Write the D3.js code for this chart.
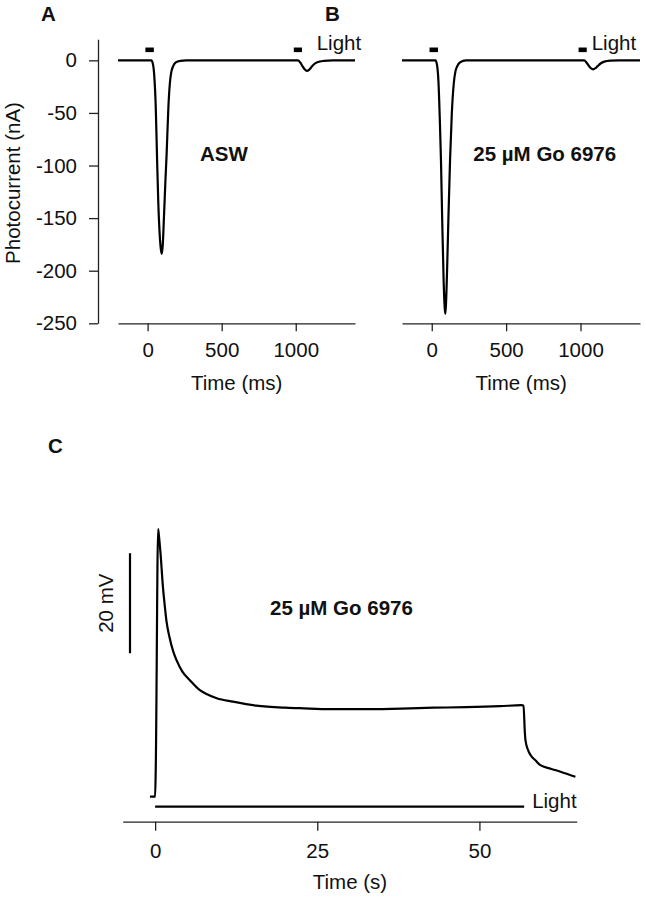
<!DOCTYPE html>
<html>
<head>
<meta charset="utf-8">
<style>
  body { margin: 0; background: #fff; }
  svg text { font-family: "Liberation Sans", Arial, sans-serif; fill: #111; }
  .axis path, .axis line { stroke: #222; stroke-width: 1.3; }
  .axis text { font-size: 20.5px; fill: #111; }
  .trace { fill: none; stroke: #000; stroke-width: 2.2; stroke-linejoin: round; }
</style>
<script src="https://d3js.org/d3.v7.min.js"></script>
</head>
<body>
<svg id="fig" width="646" height="899"></svg>
<script>
// panel A: control (ASW) photocurrent, time in ms, current in nA
const timeA = [-200, 25, 35, 45, 55, 64, 72, 80, 88, 95, 102, 110, 120, 128, 140, 150, 160, 171, 190, 220, 260, 1015, 1030, 1045, 1060, 1075, 1090, 1105, 1125, 1150, 1190, 1250, 1400];
const currA = [0, 0, -3, -15, -45, -95, -135, -162, -178, -184, -176, -150, -115, -90, -45, -22, -11, -6, -2, -0.5, 0, 0, -2, -5.5, -8.5, -10, -9, -6.5, -3.5, -1.5, -0.5, 0, 0];

// panel B: 25 uM Go 6976
const timeB = [-200, 25, 35, 45, 55, 62, 70, 80, 87, 91, 95, 102, 112, 123, 135, 148, 160, 170, 190, 230, 1025, 1040, 1055, 1070, 1085, 1100, 1115, 1135, 1160, 1200, 1260, 1400];
const currB = [0, 0, -4, -20, -60, -95, -150, -210, -235, -241, -234, -205, -150, -95, -50, -22, -10, -6, -2, 0, 0, -2, -5, -7.5, -8.5, -7.5, -5.5, -3, -1.2, -0.3, 0, 0];

// light flashes (ms)
const flashes = [[-15, 42], [987, 1042]];

const yTicksA = [0, -50, -100, -150, -200, -250];
const xTicksAB = [0, 500, 1000];

// panel C: voltage response, time in s, mV above resting level
const timeC = [-0.8, 0, 0.1, 0.46, 0.6, 0.83, 1.2, 1.5, 1.76, 2.2, 2.8, 3.3, 4.2, 5.35, 6.9, 8, 9.5, 12, 15.6, 20, 22.3, 27, 32.6, 38, 42.9, 48, 53.2, 56.5, 56.8, 57.0, 57.1, 57.5, 57.9, 58.7, 59.4, 61, 62.5, 64.8];
const voltC = [0, 0, 6, 53.5, 52, 48.7, 42, 38, 35, 32, 29, 27.3, 25, 23.3, 21.3, 20.5, 19.7, 19, 18.2, 17.8, 17.7, 17.5, 17.5, 17.6, 17.8, 17.9, 18.1, 18.3, 18.2, 13, 11.3, 9.3, 8.3, 7.2, 6.3, 5.6, 5.0, 4.0];
const lightC = [0, 56.9];
const scaleBarC = [28.7, 48.7];   // 20 mV
const xTicksC = [0, 25, 50];

const svg = d3.select("#fig");
const plain = d => String(d);   // keep hyphen minus, no thousands comma

// ---- shared y scale for A and B
const y = d3.scaleLinear().domain([-250, 20]).range([323.3, 39.3]);
const xA = d3.scaleLinear().domain([-200, 1400]).range([118, 355]);
const xB = d3.scaleLinear().domain([-200, 1400]).range([402, 640]);

function drawTrace(g, x, yS, ts, vs, curve) {
  const pts = ts.map((t, i) => [t, vs[i]]);
  g.append("path")
    .attr("class", "trace")
    .attr("d", d3.line().x(d => x(d[0])).y(d => yS(d[1])).curve(curve)(pts));
}

function drawPanel(x, ts, vs, label, condLabel, condX, lightX) {
  const g = svg.append("g");
  g.append("g")
    .attr("class", "axis")
    .attr("transform", "translate(0," + y(-250) + ")")
    .call(d3.axisBottom(x).tickValues(xTicksAB).tickFormat(plain).tickSize(8).tickSizeOuter(0).tickPadding(11));

  flashes.forEach(f => {
    g.append("rect")
      .attr("x", x(f[0])).attr("width", x(f[1]) - x(f[0]))
      .attr("y", y(10) - 2.3).attr("height", 4.6)
      .attr("fill", "#000");
  });

  drawTrace(g, x, y, ts, vs, d3.curveMonotoneX);

  g.append("text").attr("x", lightX).attr("y", 49.5)
    .style("font-size", "20.5px").text("Light");
  g.append("text").attr("x", condX).attr("y", 161)
    .style("font-size", "20.5px").style("font-weight", "bold").text(condLabel);
  g.append("text").attr("x", x(-200) - 77).attr("y", 20.5)
    .style("font-size", "20.5px").style("font-weight", "bold").text(label);
  g.append("text").attr("x", (x(0) + x(1000)) / 2 + 15).attr("y", 390)
    .attr("text-anchor", "middle").style("font-size", "20.5px").text("Time (ms)");
}

// y axis only on A
svg.append("g")
  .attr("class", "axis")
  .attr("transform", "translate(98,0)")
  .call(d3.axisLeft(y).tickValues(yTicksA).tickFormat(plain).tickSize(9).tickSizeOuter(0).tickPadding(12));

svg.append("text")
  .attr("transform", "translate(19.5,183) rotate(-90)")
  .attr("text-anchor", "middle")
  .style("font-size", "20.5px")
  .text("Photocurrent (nA)");

drawPanel(xA, timeA, currA, "A", "ASW", 200, 316.7);
drawPanel(xB, timeB, currB, "B", "25 \u00b5M Go 6976", 473.3, 591.7);

// ---- panel C
const xC = d3.scaleLinear().domain([-5, 65]).range([122.7, 576.7]);
const yC = d3.scaleLinear().domain([0, 55]).range([796.7, 521.7]);

svg.append("g")
  .attr("class", "axis")
  .attr("transform", "translate(0,821.7)")
  .call(d3.axisBottom(xC).tickValues(xTicksC).tickFormat(plain).tickSize(9).tickSizeOuter(0).tickPadding(13));

drawTrace(svg, xC, yC, timeC, voltC, d3.curveMonotoneX);

svg.append("line")
  .attr("x1", xC(lightC[0])).attr("x2", xC(lightC[1]))
  .attr("y1", 806.7).attr("y2", 806.7)
  .attr("stroke", "#000").attr("stroke-width", 2.2);

svg.append("text").attr("x", xC(lightC[1]) + 8).attr("y", 807.5)
  .style("font-size", "20.5px").text("Light");

svg.append("line")
  .attr("x1", 130).attr("x2", 130)
  .attr("y1", yC(scaleBarC[0])).attr("y2", yC(scaleBarC[1]))
  .attr("stroke", "#000").attr("stroke-width", 2.2);

svg.append("text")
  .attr("transform", "translate(112.5," + (yC(scaleBarC[0]) + yC(scaleBarC[1])) / 2 + ") rotate(-90)")
  .attr("text-anchor", "middle")
  .style("font-size", "20.5px")
  .text("20 mV");

svg.append("text").attr("x", 270).attr("y", 615)
  .style("font-size", "20.5px").style("font-weight", "bold").text("25 \u00b5M Go 6976");

svg.append("text").attr("x", 48).attr("y", 453)
  .style("font-size", "20.5px").style("font-weight", "bold").text("C");

svg.append("text").attr("x", 350).attr("y", 889)
  .attr("text-anchor", "middle").style("font-size", "20.5px").text("Time (s)");
</script>
</body>
</html>
